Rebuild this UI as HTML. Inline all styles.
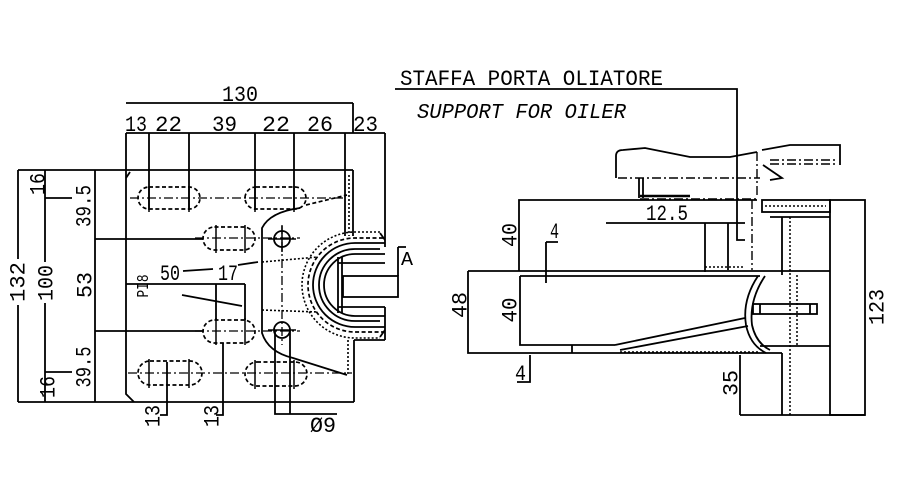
<!DOCTYPE html>
<html><head><meta charset="utf-8">
<style>
html,body{margin:0;padding:0;background:#fff;}
svg{display:block;}
text{font-family:"Liberation Mono","DejaVu Sans Mono",monospace;fill:#000;stroke:none;}
</style></head><body>
<svg width="900" height="500" viewBox="0 0 900 500" xmlns="http://www.w3.org/2000/svg">
<rect width="900" height="500" fill="#fff"/>
<!-- ================= LEFT VIEW ================= -->
<g fill="none" stroke="#000" stroke-width="1.8">
  <path d="M126 103 H353 M353 103 V133 M126 133 H385"/>
  <path d="M149 133 V210 M189 133 V210 M255 133 V210 M294 133 V210 M345 133 V170 M385 133 V247"/>
  <path d="M18 170 V259 M18 305 V402 M18 170 H353"/>
  <path d="M45 170 V262 M45 303 V402 M45 198 H72 M45 372 H72"/>
  <path d="M95 170 V402 M95 239 H203 M95 331 H203"/>
  <path d="M18 402 H354"/>
  <path d="M126 133 V394 L134 402"/>
  <path d="M126 178 L130 172"/>
  <path d="M183 271 L213 269 M238 265 L258 262 M182 295 L242 306"/>
  <path d="M126 284 H245 M216 284 V320 M245 284 V320"/>
  <path d="M167 362 V415 H160 M223 343 V415 H216"/>
  <path d="M275 330 V414 H337 M290 330 V414"/>
  <path d="M300 208 Q270 212 262 228 V333 Q268 352 293 358 L347 375"/>
  <path d="M345 170 V236 M353 170 V236"/>
  <path d="M354 340 V402 M354 340 H385 M385 307 V340"/>
  <path d="M385 243 H355 A42 42 0 0 0 355 327 H385"/>
  <path d="M380 249 H355 A36 36 0 0 0 355 321 H380"/>
  <path d="M385 254 H355 A31 31 0 0 0 355 316 H385"/>
  <path d="M338 257 V313 M342 257 V313 M338 263 H385 M338 307 H385"/>
  <rect x="343" y="276" width="55" height="21"/>
  <path d="M398 247 H406 M398 247 V276"/>
  <path d="M380 233 L385 240 M380 337 L385 330"/>
  <circle cx="282" cy="239" r="8"/>
  <circle cx="282" cy="330" r="8"/>
</g>
<g fill="none" stroke="#000" stroke-width="1.7" stroke-dasharray="4 2.5">
  <rect x="138" y="187" width="62" height="22" rx="11"/>
  <rect x="245" y="187" width="61" height="22" rx="11"/>
  <rect x="203" y="227" width="52" height="23" rx="11.5"/>
  <rect x="203" y="320" width="52" height="23" rx="11.5"/>
  <rect x="138" y="361" width="64" height="24" rx="12"/>
  <rect x="245" y="362" width="62" height="24" rx="12"/>
  <path d="M306 205 L347 195"/>
  <path d="M383 238 H355 A47 47 0 0 0 355 332 H383"/>
</g>
<g fill="none" stroke="#000" stroke-width="1.6" stroke-dasharray="2 2">
  <path d="M380 232 H355 A53 53 0 0 0 355 338 H380"/>
  <path d="M349 175 V236 M348 340 V376"/>
  <path d="M262 262 L318 257 M262 310 L318 312"/>
</g>
<g fill="none" stroke="#000" stroke-width="1.3" stroke-dasharray="9 3 2 3">
  <path d="M130 198 H345 M195 238 H300 M195 331 H300 M128 373 H352"/>
  <path d="M282 225 V345"/>
</g>
<g fill="none" stroke="#000" stroke-width="1.5">
  <path d="M149 186 V212 M189 186 V212 M255 186 V212 M294 186 V212"/>
  <path d="M216 225 V253 M245 225 V253 M216 318 V345 M245 318 V345"/>
  <path d="M149 359 V388 M189 359 V388 M255 360 V389 M294 360 V389"/>
  <path d="M268 239 H296 M268 330 H296 M282 226 V252"/>
</g>

<g font-size="22">
  <text x="222" y="101" textLength="36" lengthAdjust="spacingAndGlyphs">130</text>
  <text x="125" y="131" textLength="22" lengthAdjust="spacingAndGlyphs">13</text>
  <text x="155" y="131" textLength="27" lengthAdjust="spacingAndGlyphs">22</text>
  <text x="212" y="131" textLength="25" lengthAdjust="spacingAndGlyphs">39</text>
  <text x="262" y="131" textLength="28" lengthAdjust="spacingAndGlyphs">22</text>
  <text x="307" y="131" textLength="26" lengthAdjust="spacingAndGlyphs">26</text>
  <text x="353" y="131" textLength="25" lengthAdjust="spacingAndGlyphs">23</text>
  <text x="160" y="280" textLength="20" lengthAdjust="spacingAndGlyphs">50</text>
  <text x="218" y="280" textLength="20" lengthAdjust="spacingAndGlyphs">17</text>
  <text x="310" y="432" textLength="26" lengthAdjust="spacingAndGlyphs">Ø9</text>
  <text x="401" y="265" font-size="19" textLength="12" lengthAdjust="spacingAndGlyphs">A</text>
  <text transform="translate(17,282) rotate(-90)" x="0" y="7.5" text-anchor="middle" textLength="40" lengthAdjust="spacingAndGlyphs">132</text>
  <text transform="translate(45,283) rotate(-90)" x="0" y="7.5" text-anchor="middle" textLength="36" lengthAdjust="spacingAndGlyphs">100</text>
  <text transform="translate(37,184) rotate(-90)" x="0" y="7.5" text-anchor="middle" textLength="22" lengthAdjust="spacingAndGlyphs">16</text>
  <text transform="translate(83,206) rotate(-90)" x="0" y="7.5" text-anchor="middle" textLength="42" lengthAdjust="spacingAndGlyphs">39.5</text>
  <text transform="translate(84,285) rotate(-90)" x="0" y="7.5" text-anchor="middle" textLength="26" lengthAdjust="spacingAndGlyphs">53</text>
  <text transform="translate(83,367) rotate(-90)" x="0" y="7.5" text-anchor="middle" textLength="41" lengthAdjust="spacingAndGlyphs">39.5</text>
  <text transform="translate(47,387) rotate(-90)" x="0" y="7.5" text-anchor="middle" textLength="22" lengthAdjust="spacingAndGlyphs">16</text>
  <text transform="translate(152,416) rotate(-90)" x="0" y="7.5" text-anchor="middle" textLength="22" lengthAdjust="spacingAndGlyphs">13</text>
  <text transform="translate(211,416) rotate(-90)" x="0" y="7.5" text-anchor="middle" textLength="22" lengthAdjust="spacingAndGlyphs">13</text>
  <text transform="translate(142,286) rotate(-90)" x="0" y="6" text-anchor="middle" font-size="17" textLength="23" lengthAdjust="spacingAndGlyphs">PI8</text>
</g>

<!-- ================= RIGHT VIEW ================= -->
<g fill="none" stroke="#000" stroke-width="1.8">
  <path d="M395 89 H737 V240 H745"/>
  <path d="M616 178 V156 Q616 150 623 150 L645 148 L690 157 H730 L757 152"/>
  <path d="M762 150 L790 145 H840 V165"/>
  <path d="M639 178 V198 M643 178 V198"/>
  <path d="M763 165 L782 178 L770 180"/>
  <path d="M519 271 V200 H757"/>
  <path d="M606 223 H745"/>
  <path d="M705 223 V272 M728 223 V270"/>
  <rect x="762" y="200" width="68" height="12"/>
  <path d="M770 217 H830 M782 217 V275"/>
  <rect x="830" y="200" width="35" height="215"/>
  <path d="M468 271 H830 M520 276 H760"/>
  <path d="M468 271 V353 H782 M520 276 V345 H615"/>
  <path d="M615 345 L745 318 M620 350 L748 326"/>
  <path d="M572 345 V353"/>
  <path d="M760 346 H830"/>
  <path d="M758 276 Q742 300 746 325 Q750 345 766 353"/>
  <path d="M765 276 Q749 300 752 325 Q756 343 770 350"/>
  <rect x="753" y="304" width="64" height="10"/>
  <path d="M760 304 V314 M810 304 V314"/>
  <path d="M740 355 V415 M782 353 V415 M740 415 H865"/>
  <path d="M546 242 H558 M546 242 V283"/>
  <path d="M530 355 V382 H517"/>
</g>
<g fill="none" stroke="#000" stroke-width="1.4" stroke-dasharray="9 3 2 3">
  <path d="M618 178 H760 M770 160 H838 M770 164 H838"/>
  <path d="M640 199 H757"/>
  <path d="M757 152 V198 M752 200 V270"/>
</g>
<g fill="none" stroke="#000" stroke-width="1.5" stroke-dasharray="2 2">
  <path d="M705 267 H745 M765 206 H826"/>
  <path d="M790 217 V415 M797 275 V345"/>
  <path d="M620 352 H760"/>
</g>
<path d="M640 196 H690" stroke="#000" stroke-width="2.5"/>

<g font-size="22">
  <text x="400" y="85" font-size="22" textLength="263" lengthAdjust="spacingAndGlyphs">STAFFA PORTA OLIATORE</text>
  <text x="417" y="118" font-size="21" font-style="italic" textLength="209" lengthAdjust="spacingAndGlyphs">SUPPORT FOR OILER</text>
  <text x="646" y="220" textLength="42" lengthAdjust="spacingAndGlyphs">12.5</text>
  <text x="550" y="238" textLength="9" lengthAdjust="spacingAndGlyphs">4</text>
  <text x="515" y="380" textLength="11" lengthAdjust="spacingAndGlyphs">4</text>
  <text transform="translate(509,235) rotate(-90)" x="0" y="7.5" text-anchor="middle" textLength="24" lengthAdjust="spacingAndGlyphs">40</text>
  <text transform="translate(459,305) rotate(-90)" x="0" y="7.5" text-anchor="middle" textLength="26" lengthAdjust="spacingAndGlyphs">48</text>
  <text transform="translate(509,310) rotate(-90)" x="0" y="7.5" text-anchor="middle" textLength="25" lengthAdjust="spacingAndGlyphs">40</text>
  <text transform="translate(876,307) rotate(-90)" x="0" y="7.5" text-anchor="middle" textLength="36" lengthAdjust="spacingAndGlyphs">123</text>
  <text transform="translate(730,383) rotate(-90)" x="0" y="7.5" text-anchor="middle" textLength="26" lengthAdjust="spacingAndGlyphs">35</text>
</g>
</svg>
</body></html>
